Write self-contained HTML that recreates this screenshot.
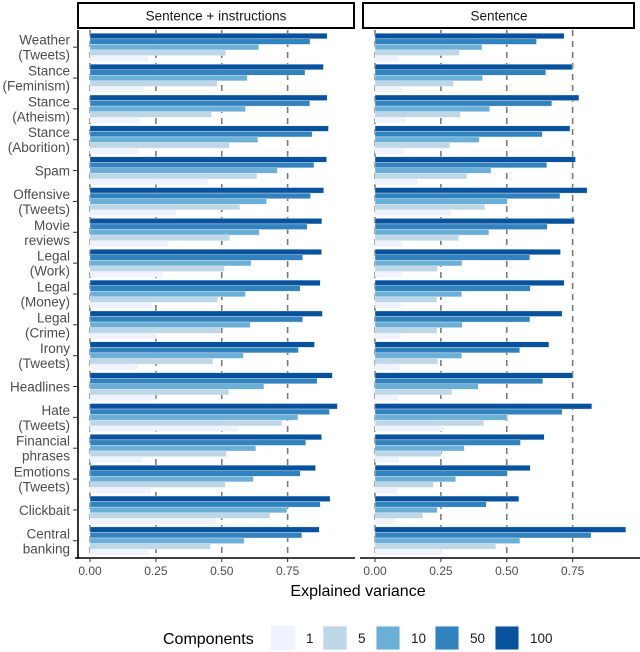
<!DOCTYPE html>
<html><head><meta charset="utf-8">
<style>
html,body{margin:0;padding:0;background:#fff;}
svg{display:block;font-family:"Liberation Sans",sans-serif;}
</style></head>
<body>
<svg id="chart" width="640" height="652" viewBox="0 0 640 652"></svg>
<script>
const categories=["Weather\n(Tweets)","Stance\n(Feminism)","Stance\n(Atheism)","Stance\n(Aborition)","Spam","Offensive\n(Tweets)","Movie\nreviews","Legal\n(Work)","Legal\n(Money)","Legal\n(Crime)","Irony\n(Tweets)","Headlines","Hate\n(Tweets)","Financial\nphrases","Emotions\n(Tweets)","Clickbait","Central\nbanking"];
const components=["100","50","10","5","1"];
const legendOrder=["1","5","10","50","100"];
const panels=["Sentence + instructions","Sentence"];
const tickValues=[0,0.25,0.5,0.75];
const tickLabels=["0.00","0.25","0.50","0.75"];
// Sentence + instructions
const left100=[0.90,0.886,0.90,0.905,0.898,0.887,0.88,0.879,0.874,0.882,0.852,0.92,0.939,0.879,0.856,0.911,0.87];
const left50=[0.835,0.816,0.834,0.843,0.85,0.837,0.824,0.807,0.798,0.807,0.791,0.862,0.909,0.819,0.798,0.874,0.804];
const left10=[0.64,0.597,0.59,0.637,0.711,0.67,0.642,0.611,0.59,0.608,0.582,0.66,0.789,0.629,0.62,0.747,0.585];
const left5=[0.515,0.482,0.461,0.528,0.633,0.568,0.53,0.51,0.484,0.496,0.466,0.527,0.728,0.517,0.513,0.682,0.457];
const left1=[0.22,0.204,0.189,0.185,0.447,0.325,0.295,0.275,0.234,0.253,0.177,0.247,0.558,0.197,0.23,0.477,0.223];
// Sentence
const right100=[0.718,0.748,0.774,0.74,0.761,0.805,0.757,0.704,0.718,0.71,0.66,0.751,0.823,0.642,0.589,0.546,0.952];
const right50=[0.613,0.648,0.671,0.635,0.652,0.702,0.654,0.587,0.589,0.588,0.549,0.637,0.71,0.552,0.502,0.422,0.82];
const right10=[0.406,0.408,0.435,0.396,0.44,0.502,0.432,0.33,0.329,0.331,0.329,0.392,0.501,0.339,0.306,0.236,0.55];
const right5=[0.32,0.297,0.324,0.284,0.349,0.417,0.317,0.236,0.234,0.235,0.238,0.291,0.412,0.25,0.221,0.181,0.458];
const right1=[0.088,0.101,0.114,0.11,0.158,0.287,0.102,0.097,0.097,0.097,0.091,0.087,0.26,0.09,0.082,0.076,0.254];

const colors={"1":"#eff3ff","5":"#bdd7e7","10":"#6baed6","50":"#3182bd","100":"#08519c"};
const NS="http://www.w3.org/2000/svg";
const svg=document.getElementById('chart');
function mk(tag,attrs,parent){const e=document.createElementNS(NS,tag);for(const k in attrs)e.setAttribute(k,attrs[k]);(parent||svg).appendChild(e);return e;}

const panelX=[{x0:78,x1:354,zero:90},{x0:363,x1:639,zero:375}];
const unit=263.5;
const plotTop=30,plotBottom=558;
const bandTop=33.3,bandStep=30.85,barH=5.55;
function xScale(p,v){return panelX[p].zero+v*unit;}
function yBand(i){return bandTop+i*bandStep;}
const seriesData=[[left100,left50,left10,left5,left1],[right100,right50,right10,right5,right1]];

panels.forEach((title,p)=>{
  const px=panelX[p];
  const g=mk('g',{});
  
  
  const strip=mk('rect',{x:px.x0,y:3,width:(p===0?276:271),height:25,fill:'#fff',stroke:'#000','stroke-width':2},g);
  
  
  const st=mk('text',{x:px.x0+(p===0?138:136),y:20.5,'text-anchor':'middle','font-size':13.5,fill:'#1a1a1a'},g);
  st.textContent=title;
  
  
  // grid dashed
  tickValues.forEach((v,k)=>{
    const gl=mk('line',{x1:xScale(p,v),x2:xScale(p,v),y1:plotTop,y2:plotBottom,stroke:'#7a7a7a','stroke-width':1.6,'stroke-dasharray':'6,5'},g);
    
    
  });
  // bars
  categories.forEach((c,i)=>{
    components.forEach((comp,j)=>{
      const v=seriesData[p][j][i];
      const r=mk('rect',{x:xScale(p,0),y:yBand(i)+j*barH,width:Math.max(0,xScale(p,v)-xScale(p,0)),height:barH,fill:colors[comp],stroke:'#e8eef8','stroke-width':0.4},g);
      
      
    });
  });
  // bottom axis
  const ax=mk('line',{x1:px.x0-3,x2:px.x1+1,y1:plotBottom,y2:plotBottom,stroke:'#000','stroke-width':1.6},g);
  
  
  tickValues.forEach((v,k)=>{
    const tk=mk('line',{x1:xScale(p,v),x2:xScale(p,v),y1:plotBottom,y2:plotBottom+4,stroke:'#333','stroke-width':1},g);
    
    
    const tl=mk('text',{x:xScale(p,v),y:plotBottom+17,'text-anchor':'middle','font-size':12,fill:'#4d4d4d'},g);
    tl.textContent=tickLabels[k];
    
    
  });
});
// left y axis
const yax=mk('line',{x1:78,x2:78,y1:plotTop,y2:plotBottom+1,stroke:'#000','stroke-width':1.6});


categories.forEach((c,i)=>{
  const cy=yBand(i)+2.5*barH;
  const tk=mk('line',{x1:73,x2:78,y1:cy,y2:cy,stroke:'#333','stroke-width':1});
  
  
  const lines=c.split('\n');
  const t=mk('text',{x:70,'text-anchor':'end','font-size':13.5,fill:'#4d4d4d'});
  
  
  lines.forEach((ln,k)=>{
    const ts=mk('tspan',{x:70,y:cy+5+(lines.length===2?(k===0?-7.5:7.5):0)},t);
    ts.textContent=ln;
  });
});
const xt=mk('text',{x:358,y:596,'text-anchor':'middle','font-size':16,fill:'#000'});
xt.textContent='Explained variance';


// legend
const lg=mk('g',{});


const lt=mk('text',{x:163,y:644,'font-size':16,fill:'#000'},lg);
lt.textContent='Components';


const keyX=[271,323,376,435,495];
legendOrder.forEach((comp,k)=>{
  const r=mk('rect',{x:keyX[k],y:626,width:24,height:24,fill:colors[comp],stroke:'#f2f5fb','stroke-width':1},lg);
  
  
  const t=mk('text',{x:keyX[k]+35,y:643,'font-size':13.5,fill:'#1a1a1a'},lg);
  t.textContent=comp;
  
  
});
</script>
</body></html>
